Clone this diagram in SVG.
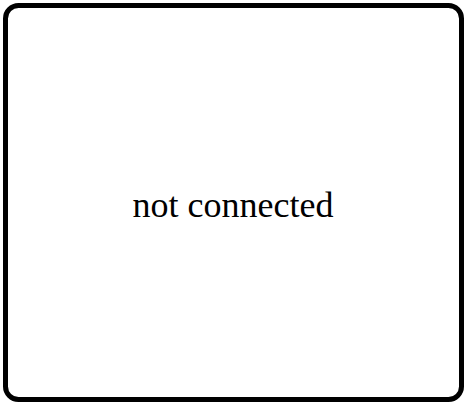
<svg xmlns="http://www.w3.org/2000/svg" width="469" height="408" viewBox="0 0 469 408">
<style>
.frame{fill:#ffffff;stroke:#000000;stroke-width:5}
.label{font-family:"Liberation Serif","Times New Roman",serif;font-size:36px;fill:#000000}
</style>
<rect width="469" height="408" fill="#ffffff"/>
<g id="node-status">
<rect class="frame" x="5.5" y="5.5" width="456" height="394" rx="13" ry="13"/>
<text class="label" x="233" y="217" text-anchor="middle">not connected</text>
</g>
<g id="connectors"></g>
</svg>
